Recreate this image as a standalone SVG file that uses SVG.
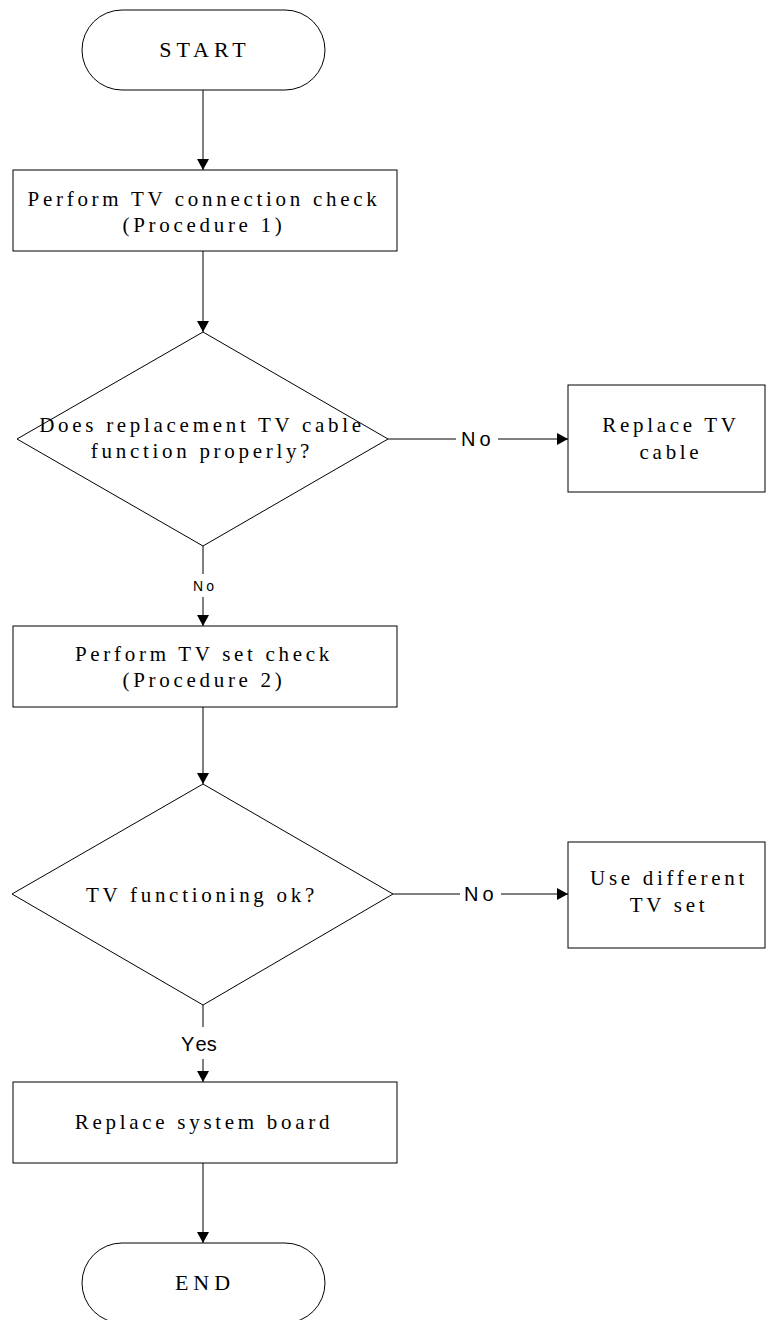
<svg xmlns="http://www.w3.org/2000/svg" width="766" height="1320" viewBox="0 0 766 1320">
<defs>
<marker id="arr" markerWidth="12" markerHeight="12" refX="11" refY="6" orient="auto" markerUnits="userSpaceOnUse">
<path d="M0,0 L11,6 L0,12 z" fill="#000"/>
</marker>
<style>
.shape{fill:#fff;stroke:#000;stroke-width:1}
.t{font-family:"Liberation Serif","Times New Roman",serif;font-size:21px;letter-spacing:3.7px;fill:#000;text-anchor:middle}
.tt{font-family:"Liberation Serif","Times New Roman",serif;font-size:22px;letter-spacing:5px;fill:#000;text-anchor:middle}
.lbl{font-family:"Liberation Sans",Arial,sans-serif;font-size:20px;fill:#000}
.lbls{font-family:"Liberation Sans",Arial,sans-serif;font-size:14px;fill:#000}
.c{fill:none;stroke:#000;stroke-width:1}
</style>
</defs>
<rect width="766" height="1320" fill="#fff"/>
<g id="connectors">
<line class="c" x1="203" y1="90" x2="203" y2="170" marker-end="url(#arr)"/>
<line class="c" x1="203" y1="251" x2="203" y2="332" marker-end="url(#arr)"/>
<line class="c" x1="388" y1="439" x2="456" y2="439"/>
<line class="c" x1="498" y1="439" x2="568" y2="439" marker-end="url(#arr)"/>
<text class="lbl" x="461" y="446">N<tspan dx="4">o</tspan></text>
<line class="c" x1="203" y1="546" x2="203" y2="574"/>
<line class="c" x1="203" y1="597" x2="203" y2="626" marker-end="url(#arr)"/>
<text class="lbls" x="193" y="591">N<tspan dx="3">o</tspan></text>
<line class="c" x1="203" y1="707" x2="203" y2="784" marker-end="url(#arr)"/>
<line class="c" x1="393" y1="894" x2="460" y2="894"/>
<line class="c" x1="501" y1="894" x2="568" y2="894" marker-end="url(#arr)"/>
<text class="lbl" x="464" y="901">N<tspan dx="4">o</tspan></text>
<line class="c" x1="203" y1="1005" x2="203" y2="1027"/>
<line class="c" x1="203" y1="1059" x2="203" y2="1082" marker-end="url(#arr)"/>
<text class="lbl" x="181" y="1051">Y<tspan dx="3">es</tspan></text>
<line class="c" x1="203" y1="1163" x2="203" y2="1243" marker-end="url(#arr)"/>
</g>
<g id="start">
<rect class="shape" x="82" y="10" width="243" height="80" rx="40" ry="40"/>
<text class="tt" x="205" y="57">START</text>
</g>
<g id="box1">
<rect class="shape" x="13" y="170" width="384" height="81"/>
<text class="t" x="204" y="206">Perform TV connection check</text>
<text class="t" x="204" y="232">(Procedure 1)</text>
</g>
<g id="diamond1">
<polygon class="shape" points="203,332 388,439 203,546 17,439"/>
<text class="t" x="202" y="432">Does replacement TV cable</text>
<text class="t" x="202" y="458">function properly?</text>
</g>
<g id="replace-cable">
<rect class="shape" x="568" y="385" width="197" height="107"/>
<text class="t" x="671" y="432">Replace TV</text>
<text class="t" x="671" y="459">cable</text>
</g>
<g id="box2">
<rect class="shape" x="13" y="626" width="384" height="81"/>
<text class="t" x="204" y="661">Perform TV set check</text>
<text class="t" x="204" y="687">(Procedure 2)</text>
</g>
<g id="diamond2">
<polygon class="shape" points="203,784 393,894 203,1005 12,894"/>
<text class="t" x="202" y="902">TV functioning ok?</text>
</g>
<g id="different-tv">
<rect class="shape" x="568" y="842" width="197" height="106"/>
<text class="t" x="669" y="885">Use different</text>
<text class="t" x="669" y="912">TV set</text>
</g>
<g id="box3">
<rect class="shape" x="13" y="1082" width="384" height="81"/>
<text class="t" x="204" y="1129">Replace system board</text>
</g>
<g id="end">
<rect class="shape" x="82" y="1243" width="243" height="80" rx="40" ry="40"/>
<text class="tt" x="205" y="1290">END</text>
</g>
</svg>
